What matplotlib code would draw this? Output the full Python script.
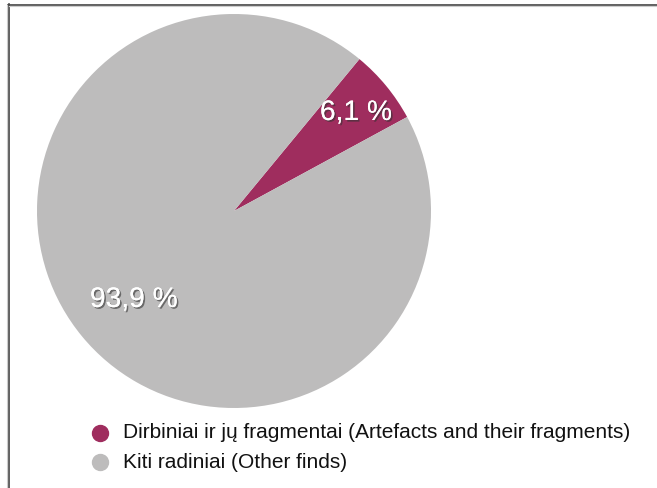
import matplotlib
matplotlib.use("Agg")
import matplotlib.pyplot as plt
import matplotlib.patheffects as pe
from matplotlib.lines import Line2D

# =============================================================================
# Data
# =============================================================================
categories = ["Dirbiniai ir jų fragmentai (Artefacts and their fragments)",
              "Kiti radiniai (Other finds)"]
shares = [6.1, 93.9]
value_labels = ["6,1 %", "93,9 %"]
colors = ["#9f2d5e", "#bdbcbc"]

plt.rcParams['font.family'] = ['Liberation Sans', 'DejaVu Sans']

W, H = 657, 488
fig = plt.figure(figsize=(W / 100, H / 100), dpi=100)

# pie axes, placed in pixel coordinates
cx, cy, r = 234, 211, 197
ax = fig.add_axes([(cx - r) / W, (H - cy - r) / H, 2 * r / W, 2 * r / H])
wedges, _ = ax.pie(shares, colors=colors, startangle=28.5, counterclock=True,
                   radius=1, wedgeprops=dict(linewidth=0))
ax.set_xlim(-1, 1)
ax.set_ylim(-1, 1)
ax.set_aspect('equal')
ax.axis('off')

shadow = [pe.withSimplePatchShadow(offset=(1.2, -1.2), shadow_rgbFace='#333333', alpha=0.6),
          pe.Normal()]
label_pos = [(356, 113), (134, 300)]
for (px, py), lab in zip(label_pos, value_labels):
    fig.text(px / W, 1 - py / H, lab, color='white', fontsize=20.3,
             ha='center', va='center', path_effects=shadow)

# legend
for i, (cat, col) in enumerate(zip(categories, colors)):
    y = 1 - (433 + 29 * i) / H
    fig.add_artist(Line2D([100 / W], [y], marker='o', markersize=11.5,
                          color=col, linestyle='none'))
    fig.text(123 / W, y, cat, fontsize=15, color='#111111', va='center', ha='left')

# frame lines at top and left
fig.add_artist(Line2D([8 / W, 1], [1 - 4.5 / H, 1 - 4.5 / H], color='#444444', lw=1.2))
fig.add_artist(Line2D([8.5 / W, 8.5 / W], [0, 1 - 4 / H], color='#444444', lw=1.2))
fig.add_artist(Line2D([9 / W, 1], [1 - 6 / H, 1 - 6 / H], color='#cccccc', lw=0.8))
fig.add_artist(Line2D([7 / W, 7 / W], [0, 1 - 5 / H], color='#cccccc', lw=0.8))

fig.savefig("out.png", dpi=100)
